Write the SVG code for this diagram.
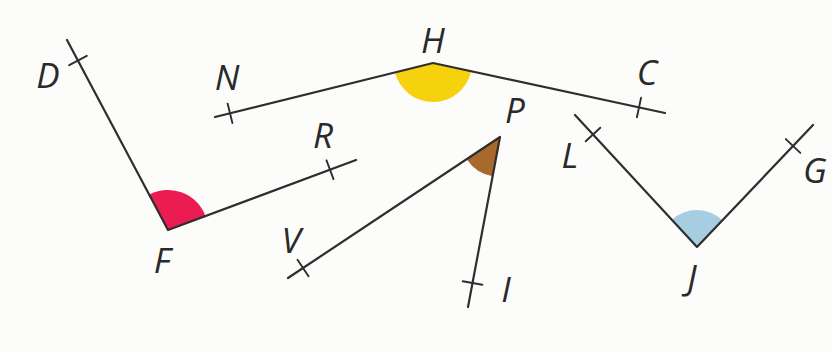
<svg xmlns="http://www.w3.org/2000/svg" width="832" height="352" viewBox="0 0 832 352">
<style>
.ray{stroke:#2e2e2e;stroke-width:2.2;fill:none;stroke-linecap:round;stroke-linejoin:round}
.tick{stroke:#2e2e2e;stroke-width:1.9;fill:none;stroke-linecap:round}
.lbl{font-family:"Open Sans","Noto Sans","DejaVu Sans",sans-serif;font-style:italic;font-size:35px;fill:#2a2a2a;text-anchor:middle}
</style>
<rect width="832" height="352" fill="#fcfcfa"/>
<g id="angle-DFR">
<path d="M168,230 L149.2,194.7 A40,40 0 0 1 205.5,216 Z" fill="#ea1c52"/>
<polyline class="ray" points="67,40 168,230 356,160"/>
<line class="tick" x1="69.2" y1="65.2" x2="86.8" y2="55.8"/>
<line class="tick" x1="326.5" y1="160.3" x2="333.5" y2="179.1"/>
<text class="lbl" x="48" y="88">D</text>
<text class="lbl" x="162" y="273">F</text>
<text class="lbl" x="323" y="148">R</text>
</g>
<g id="angle-NHC">
<path d="M433,63 L471.1,71.2 A39,39 0 0 1 395.1,72.4 Z" fill="#f6d20e"/>
<polyline class="ray" points="215,117 433,63 665,113"/>
<line class="tick" x1="227.6" y1="103.6" x2="232.4" y2="123"/>
<line class="tick" x1="641.1" y1="97.6" x2="636.9" y2="117.2"/>
<text class="lbl" x="227" y="90">N</text>
<text class="lbl" x="433" y="53">H</text>
<text class="lbl" x="647" y="85">C</text>
</g>
<g id="angle-VPI">
<path d="M500,137 L492.6,176.3 A40,40 0 0 1 466.7,159.2 Z" fill="#a8692c"/>
<polyline class="ray" points="288,278 500,137 468,307"/>
<line class="tick" x1="297.5" y1="259.7" x2="308.5" y2="276.3"/>
<line class="tick" x1="462.7" y1="281.2" x2="482.3" y2="284.8"/>
<text class="lbl" x="515" y="123">P</text>
<text class="lbl" x="291" y="253">V</text>
<text class="lbl" x="506" y="302">I</text>
</g>
<g id="angle-LJG">
<path d="M697,247 L671.9,219.8 A37,37 0 0 1 722.5,220.2 Z" fill="#a7cde3"/>
<polyline class="ray" points="575,115 697,247 813,125"/>
<line class="tick" x1="585.7" y1="141.3" x2="600.3" y2="127.7"/>
<line class="tick" x1="785.8" y1="139.1" x2="800.3" y2="152.9"/>
<text class="lbl" x="570" y="168">L</text>
<text class="lbl" x="815" y="183">G</text>
<text class="lbl" x="692" y="290">J</text>
</g>
</svg>
